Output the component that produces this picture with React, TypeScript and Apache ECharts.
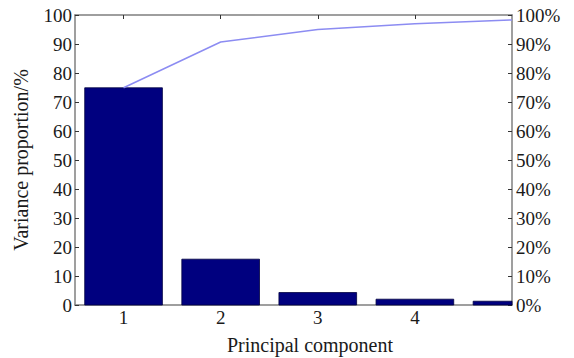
import React, { useEffect, useRef } from "react";
import * as echarts from "echarts";

const components = [1, 2, 3, 4, 5];
const varianceProportion = [74.9, 15.8, 4.3, 2.0, 1.3];
const cumulativeProportion = [74.9, 90.7, 95.0, 97.0, 98.3];
const xTickValues = [1, 2, 3, 4];

const FONT = "'Liberation Serif', 'Times New Roman', Times, serif";
const AXIS_COLOR = "#7f7f7f";
const TEXT_COLOR = "#1a1a1a";
const BAR_WIDTH_UNITS = 0.8;

export default function App() {
  const ref = useRef<HTMLDivElement>(null);
  useEffect(() => {
    document.body.style.margin = "0";
    if (!ref.current) return;
    const chart = echarts.init(ref.current, null, { renderer: "svg" });
    const xAxisCommon = {
      type: "value" as const,
      min: 0.5,
      max: 5,
      splitLine: { show: false },
      axisLine: { show: true, onZero: false, lineStyle: { color: AXIS_COLOR, width: 1.5 } },
      axisTick: { show: true, inside: true, length: 4, customValues: xTickValues, lineStyle: { color: "#333" } },
    };
    chart.setOption({
      animation: false,
      backgroundColor: "#ffffff",
      textStyle: { fontFamily: FONT },
      grid: { left: 75, right: 62, top: 15, bottom: 53, containLabel: false },
      xAxis: [
        {
          ...xAxisCommon,
          position: "bottom",
          axisLabel: {
            show: true,
            customValues: xTickValues,
            formatter: (v: number) => String(v),
            fontFamily: FONT,
            fontSize: 19,
            color: TEXT_COLOR,
            margin: 3,
          },
        },
        {
          ...xAxisCommon,
          position: "top",
          axisLabel: { show: false },
        },
      ],
      yAxis: [
        {
          type: "value",
          min: 0,
          max: 100,
          interval: 10,
          position: "left",
          name: "Variance proportion/%",
          nameLocation: "middle",
          nameGap: 44,
          nameTextStyle: { fontFamily: FONT, fontSize: 20, color: TEXT_COLOR },
          splitLine: { show: false },
          axisLine: { show: true, lineStyle: { color: AXIS_COLOR, width: 1.5 } },
          axisTick: { show: true, inside: true, length: 4, lineStyle: { color: "#333" } },
          axisLabel: { fontFamily: FONT, fontSize: 19, color: TEXT_COLOR, margin: 3 },
        },
        {
          type: "value",
          min: 0,
          max: 100,
          interval: 10,
          position: "right",
          splitLine: { show: false },
          axisLine: { show: true, lineStyle: { color: AXIS_COLOR, width: 1.5 } },
          axisTick: { show: true, inside: true, length: 4, lineStyle: { color: "#333" } },
          axisLabel: { fontFamily: FONT, fontSize: 19, color: TEXT_COLOR, margin: 4, formatter: "{value}%" },
        },
      ],
      graphic: [
        {
          type: "text",
          x: 310,
          y: 345,
          style: {
            text: "Principal component",
            fontFamily: FONT,
            fontSize: 20,
            fill: TEXT_COLOR,
            align: "center",
            verticalAlign: "middle",
          },
        },
      ],
      series: [
        {
          type: "custom",
          xAxisIndex: 0,
          yAxisIndex: 0,
          data: components.map((c, i) => [c, varianceProportion[i]]),
          renderItem: (params: any, api: any) => {
            const x = api.value(0);
            const y = api.value(1);
            const p0 = api.coord([x - BAR_WIDTH_UNITS / 2, y]);
            const p1 = api.coord([x + BAR_WIDTH_UNITS / 2, 0]);
            const cs = params.coordSys;
            const shape = echarts.graphic.clipRectByRect(
              { x: p0[0], y: p0[1], width: p1[0] - p0[0], height: p1[1] - p0[1] },
              { x: cs.x, y: cs.y, width: cs.width, height: cs.height }
            );
            if (!shape) return null;
            return {
              type: "rect",
              shape,
              style: { fill: "#00007f", stroke: "#000040", lineWidth: 0.8 },
            };
          },
        },
        {
          type: "line",
          xAxisIndex: 0,
          yAxisIndex: 1,
          data: components.map((c, i) => [c, cumulativeProportion[i]]),
          showSymbol: false,
          symbol: "none",
          clip: false,
          z: 5,
          lineStyle: { color: "#8c8cf2", width: 1.5 },
        },
      ],
    });
    return () => chart.dispose();
  }, []);
  return <div ref={ref} style={{ width: 574, height: 358 }} />;
}
